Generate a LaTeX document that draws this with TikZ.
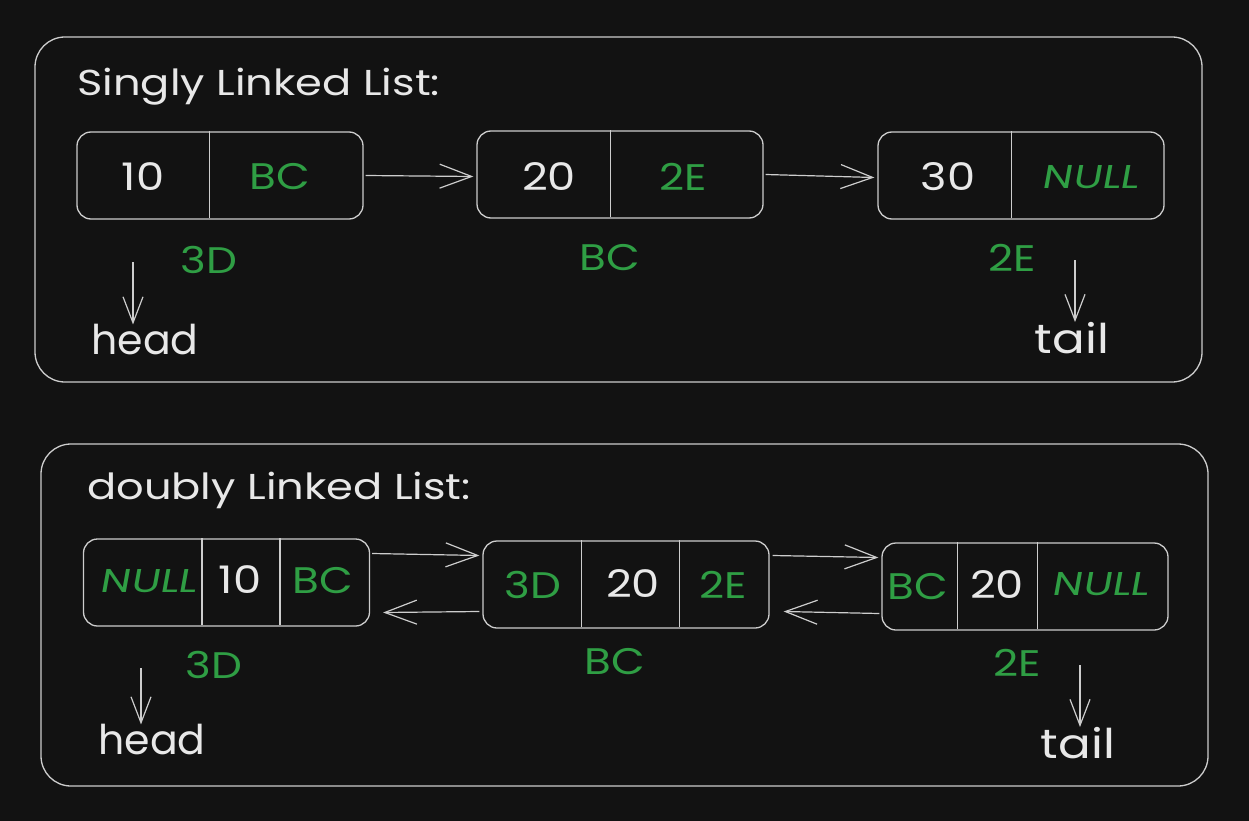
\documentclass[tikz,border=0pt]{standalone}
\usepackage{fontspec}
\setmainfont{Poppins}
\newfontfamily\wfont[FakeStretch=1.18]{Poppins}
\newfontfamily\tfont[FakeStretch=1.2]{Poppins}
\newfontfamily\slfont[FakeSlant=0.18,FakeStretch=1.3]{Poppins}
\usetikzlibrary{arrows.meta}
\definecolor{bg}{HTML}{121212}
\definecolor{ln}{HTML}{CDCDCD}
\definecolor{gr}{HTML}{2F9E44}
\definecolor{tx}{HTML}{E8E8E8}
\begin{document}
\begin{tikzpicture}[x=1pt,y=-1pt,
  frame/.style={draw=ln,line width=1.3pt,rounded corners=30pt},
  cellbox/.style={draw=ln,line width=1.3pt,rounded corners=14pt,inner sep=0pt,minimum width=286pt,minimum height=87pt},
  divl/.style={draw=ln,line width=1.3pt},
  val/.style={text=tx,inner sep=0pt,font=\wfont\fontsize{38}{38}\selectfont},
  ptr/.style={text=gr,inner sep=0pt,font=\wfont\fontsize{37}{37}\selectfont},
  nul/.style={text=gr,inner sep=0pt,font=\slfont\fontsize{33}{33}\selectfont},
  ttl/.style={text=tx,inner sep=0pt,anchor=west,font=\tfont\fontsize{36}{36}\selectfont},
  big/.style={text=tx,inner sep=0pt,font=\fontsize{41}{41}\selectfont},
  bigw/.style={text=tx,inner sep=0pt,font=\wfont\fontsize{41}{41}\selectfont},
  arr/.style={draw=ln,line width=1.2pt,-{Straight Barb[length=32pt,width=24pt,line width=1.2pt]}},
  darr/.style={draw=ln,line width=1.2pt,-{Straight Barb[length=26pt,width=20pt,line width=1.2pt]}}
]
\fill[bg] (0,0) rectangle (1249,821);
\useasboundingbox (0,0) rectangle (1249,821);

% ---------- Singly linked list ----------
\draw[frame] (35,37) rectangle (1202,382);
\node[ttl] (t1) at (77,87) {Singly Linked List:};

\node[cellbox] (s1) at (220,175.5) {};
\node[cellbox] (s2) at (620,174.5) {};
\node[cellbox] (s3) at (1021,175.5) {};
\draw[divl] (s1.north west) ++(133,0) -- ++(0,87);
\draw[divl] (s2.north west) ++(134,0) -- ++(0,87);
\draw[divl] (s3.north west) ++(134,0) -- ++(0,87);

\node[val] (s1v) at (143,177) {10};
\node[ptr] (s1p) at (280,177) {BC};
\node[val] (s2v) at (549,177) {20};
\node[ptr] (s2p) at (683,177) {2E};
\node[val] (s3v) at (948,177) {30};
\node[nul] (s3p) at (1090,177) {NULL};

\draw[arr] ([xshift=2pt]s1.east) -- ([xshift=-3pt,yshift=-2pt]s2.west);
\draw[arr] ([xshift=2pt]s2.east) -- ([xshift=-3pt,yshift=-2pt]s3.west);

\node[ptr] (s1a) at (209,260) {3D};
\node[ptr] (s2a) at (610,258) {BC};
\node[ptr] (s3a) at (1012,258) {2E};

\node[big] (h1) at (145,340) {head};
\node[bigw] (tl1) at (1072,338) {tail};
\coordinate (h1s) at (133,262);
\coordinate (tl1s) at (1075,260);
\draw[darr] (h1s) -- (h1s |- h1.north);
\draw[darr] (tl1s) -- (tl1s |- tl1.north);

% ---------- Doubly linked list ----------
\draw[frame] (41,444) rectangle (1208,786);
\node[ttl] (t2) at (87,490) {doubly Linked List:};

\node[cellbox] (d1) at (226.5,582.5) {};
\node[cellbox] (d2) at (626,584.5) {};
\node[cellbox] (d3) at (1025,586.5) {};
\draw[divl] (d1.north west) ++(119,0) -- ++(0,87);
\draw[divl] (d1.north west) ++(197,0) -- ++(0,87);
\draw[divl] (d2.north west) ++(99,0) -- ++(0,87);
\draw[divl] (d2.north west) ++(197,0) -- ++(0,87);
\draw[divl] (d3.north west) ++(76,0) -- ++(0,87);
\draw[divl] (d3.north west) ++(156,0) -- ++(0,87);

\node[nul] (d1a) at (148,581) {NULL};
\node[val] (d1b) at (240,580) {10};
\node[ptr] (d1c) at (323,581) {BC};
\node[ptr] (d2a) at (533,585) {3D};
\node[val] (d2b) at (633,584) {20};
\node[ptr] (d2c) at (723,585) {2E};
\node[ptr] (d3a) at (918,587) {BC};
\node[val] (d3b) at (997,585) {20};
\node[nul] (d3c) at (1100,584) {NULL};

\draw[arr] ([xshift=2pt,yshift=29pt]d1.east) -- ([xshift=-3pt,yshift=29pt]d2.west);
\draw[arr] ([xshift=3pt,yshift=29pt]d2.east) -- ([xshift=-3pt,yshift=29pt]d3.west);
\draw[arr] ([xshift=-3pt,yshift=-27pt]d2.west) -- ([xshift=13pt,yshift=-30pt]d1.east);
\draw[arr] ([xshift=-2pt,yshift=-27pt]d3.west) -- ([xshift=14pt,yshift=-27pt]d2.east);

\node[ptr] (d1l) at (214,665) {3D};
\node[ptr] (d2l) at (615,662) {BC};
\node[ptr] (d3l) at (1017,663) {2E};

\node[big] (h2) at (152,740) {head};
\node[bigw] (tl2) at (1078,743) {tail};
\coordinate (h2s) at (141,668);
\coordinate (tl2s) at (1080,665);
\draw[darr] (h2s) -- (h2s |- h2.north);
\draw[darr] (tl2s) -- (tl2s |- tl2.north);
\end{tikzpicture}
\end{document}
